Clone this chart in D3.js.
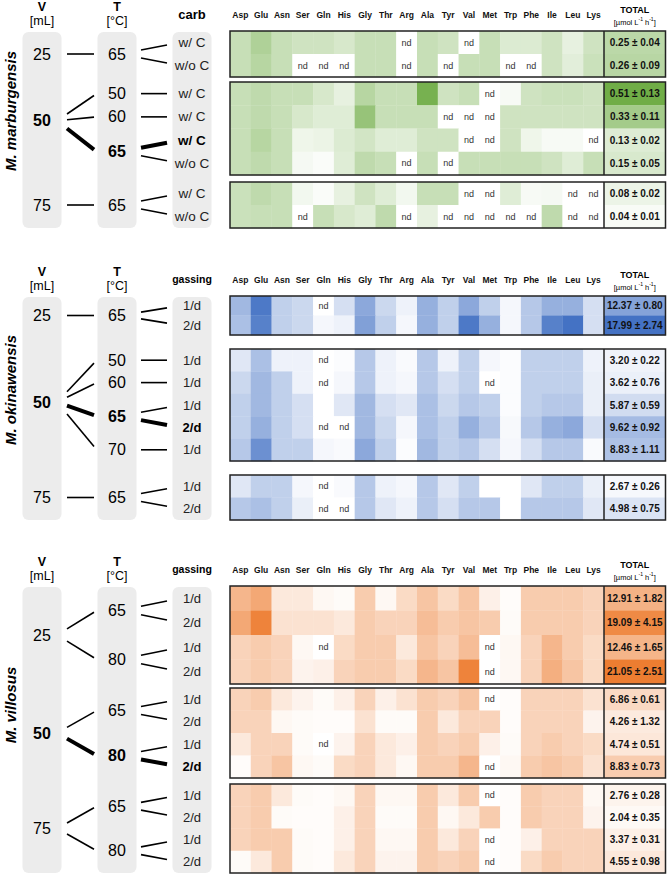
<!DOCTYPE html>
<html><head><meta charset="utf-8">
<script src="https://cdn.jsdelivr.net/npm/d3@7"></script>
<style>
body{margin:0;background:#fff}
svg{display:block;font-family:"Liberation Sans",Arial,sans-serif}
</style>
</head><body>
<svg id="c" width="667" height="875"></svg>
<script>
// ---------------- DATA ----------------
const aminoAcids = ["Asp","Glu","Asn","Ser","Gln","His","Gly","Thr","Arg","Ala","Tyr","Val","Met","Trp","Phe","Ile","Leu","Lys"];

// M. marburgensis
const marbVolume = [25,25,50,50,50,50,75,75];
const marbTemp   = [65,65,50,60,65,65,65,65];
const marbCond   = ["w/ C","w/o C","w/ C","w/ C","w/ C","w/o C","w/ C","w/o C"];
const marbTotal  = [0.25,0.26,0.51,0.33,0.13,0.15,0.08,0.04];
const marbSD     = [0.04,0.09,0.13,0.11,0.02,0.05,0.02,0.01];
const marbStandard = 4;
// relative shading per amino acid (0 = none, 1 = max), null = nd
const marbLevels = [
 [0.35,0.5,0.35,0.3,0.3,0.25,0.35,0.35,null,0.35,0.3,null,0.35,0.22,0.22,0.3,0.15,0.3],
 [0.35,0.45,0.35,null,null,null,0.35,0.35,null,0.35,null,0.35,0.35,null,null,0.3,0.18,0.33],
 [0.35,0.4,0.35,0.35,0.25,0.15,0.45,0.35,0.35,0.85,0.3,0.35,null,0.05,0.3,0.33,0.33,0.3],
 [0.35,0.4,0.35,0.25,0.2,0.2,0.65,0.35,0.35,0.35,null,null,null,0.3,0.3,0.3,0.3,0.3],
 [0.35,0.45,0.35,0.1,0.12,0.22,0.28,0.2,0.2,0.3,0.3,null,null,0.3,0.1,0.05,0.05,null],
 [0.35,0.4,0.35,0.06,0.03,0.2,0.4,0.35,null,0.35,null,0.35,0.35,0.35,0.35,0.3,0.2,0.35],
 [0.33,0.4,0.35,0.08,0.03,0.15,0.3,0.2,0.08,0.35,0.35,null,null,0.2,0.05,0.06,null,null],
 [0.33,0.35,0.35,null,0.35,0.25,0.2,0.4,null,0.15,null,null,null,null,null,0.4,null,null]
];

// M. okinawensis
const okinVolume = [25,25,50,50,50,50,50,75,75];
const okinTemp   = [65,65,50,60,65,65,70,65,65];
const okinCond   = ["1/d","2/d","1/d","1/d","1/d","2/d","1/d","1/d","2/d"];
const okinTotal  = [12.37,17.99,3.20,3.62,5.87,9.62,8.83,2.67,4.98];
const okinSD     = [0.80,2.74,0.22,0.76,0.59,0.92,1.11,0.26,0.75];
const okinStandard = 5;
const okinLevels = [
 [0.45,0.85,0.3,0.25,null,0.2,0.55,0.25,0.08,0.5,0.3,0.55,0.3,0.05,0.35,0.5,0.5,0.2],
 [0.4,0.8,0.3,0.25,0.05,0.08,0.6,0.3,0.05,0.5,0.3,0.85,0.5,0.05,0.35,0.8,0.9,0.2],
 [0.15,0.4,0.08,0.08,null,0.02,0.35,0.08,0.03,0.35,0.08,0.3,0.05,0.02,0.3,0.3,0.3,0.08],
 [0.25,0.45,0.3,0.08,null,0.05,0.35,0.08,0.05,0.35,0.2,0.3,null,0.02,0.3,0.3,0.3,0.1],
 [0.3,0.45,0.3,0.2,0,0.15,0.45,0.2,0.15,0.4,0.25,0.35,0.3,0.02,0.3,0.35,0.35,0.1],
 [0.3,0.5,0.3,0.2,null,null,0.45,0.25,0.05,0.4,0.3,0.5,0.35,0.04,0.35,0.5,0.55,0.2],
 [0.35,0.7,0.3,0.3,0.05,0.03,0.55,0.3,0.02,0.45,0.3,0.35,0.2,0.05,0.2,0.35,0.35,0.03],
 [0.15,0.3,0.3,0.05,null,0.03,0.35,0.08,0.05,0.35,0.15,0.3,0,0,0.15,0.3,0.3,0.1],
 [0.35,0.4,0.3,0.1,null,null,0.35,0.15,0.08,0.35,0.2,0.35,0.35,0,0.35,0.35,0.35,0.15]
];

// M. villosus
const villVolume = [25,25,25,25,50,50,50,50,75,75,75,75];
const villTemp   = [65,65,80,80,65,65,80,80,65,65,80,80];
const villCond   = ["1/d","2/d","1/d","2/d","1/d","2/d","1/d","2/d","1/d","2/d","1/d","2/d"];
const villTotal  = [12.91,19.09,12.46,21.05,6.86,4.26,4.74,8.83,2.76,2.04,3.37,4.55];
const villSD     = [1.82,4.15,1.65,2.51,0.61,1.32,0.51,0.73,0.28,0.35,0.31,0.98];
const villStandard = 7;
const villLevels = [
 [0.5,0.6,0.15,0.15,0.05,0.03,0.35,0.05,0.25,0.4,0.25,0.4,0.1,0.02,0.35,0.35,0.35,0.3],
 [0.6,0.85,0.2,0.2,0.2,0.15,0.35,0.3,0.3,0.45,0.35,0.4,0.35,0.03,0.35,0.35,0.35,0.3],
 [0.3,0.35,0.3,0.05,null,0.25,0.35,0.35,0.15,0.4,0.3,0.45,null,0.05,0.3,0.5,0.35,0.25],
 [0.3,0.35,0.3,0.08,0.1,0.3,0.35,0.35,0.25,0.5,0.4,0.85,null,0.05,0.3,0.55,0.4,0.25],
 [0.3,0.35,0.15,0.08,0.03,0.1,0.3,0.1,0.2,0.35,0.3,0.4,null,0.02,0.3,0.3,0.3,0.2],
 [0.3,0.3,0.05,0.03,0.02,0.02,0.2,0.03,0.03,0.35,0.15,0.3,0.3,0.02,0.3,0.3,0.3,0.08],
 [0.15,0.3,0.3,0.03,null,0.08,0.3,0.15,0.1,0.35,0.3,0.35,0.1,0.03,0.3,0.35,0.3,0.25],
 [0.02,0.3,0.4,0.05,0.03,0.25,0.3,0.15,0.05,0.35,0.35,0.5,null,0.05,0.35,0.4,0.35,0.2],
 [0.3,0.35,0.15,0.03,0.02,0.05,0.3,0.05,0.05,0.35,0.15,0.35,null,0.02,0.35,0.3,0.3,0.05],
 [0.3,0.35,0.03,0.02,0.02,0.1,0.3,0.03,0.03,0.35,0.05,0.15,0.35,0.02,0.35,0.3,0.3,0.08],
 [0.3,0.35,0.35,0.03,0.02,0.1,0.3,0.05,0.05,0.35,0.15,0.3,null,0.02,0.1,0.3,0.3,0.3],
 [0.03,0.15,0.35,0.03,0.02,0.15,0.3,0.08,0.08,0.35,0.3,0.35,null,0.02,0.25,0.35,0.3,0.3]
];

// ---------------- LAYOUT ----------------
const panels = [
 {name:"M. marburgensis", condTitle:"carb", condTitleSize:13, condSize:13.5, base:"#70ad47",
  vol:marbVolume, temp:marbTemp, cond:marbCond, total:marbTotal, sd:marbSD, levels:marbLevels, std:marbStandard,
  boxes:[[31,77],[82,175],[182,228]], nameY:111},
 {name:"M. okinawensis", condTitle:"gassing", condTitleSize:10.5, condSize:13, base:"#4472c4",
  vol:okinVolume, temp:okinTemp, cond:okinCond, total:okinTotal, sd:okinSD, levels:okinLevels, std:okinStandard,
  boxes:[[296,335],[349,461],[475,520]], nameY:390},
 {name:"M. villosus", condTitle:"gassing", condTitleSize:10.5, condSize:13, base:"#ed7d31",
  vol:villVolume, temp:villTemp, cond:villCond, total:villTotal, sd:villSD, levels:villLevels, std:villStandard,
  boxes:[[586,684],[688,778],[784,873]], nameY:705}
];

const heatLeft = 230, heatRight = 604, totalRight = 665.5;
const colV = 42, colT = 117, colC = 192;
const shade = 1.12;
const svg = d3.select("#c");
const x = d3.scaleBand().domain(aminoAcids).range([heatLeft, heatRight]);

function groupRuns(arr, idx) {
  const runs = [];
  idx.forEach(i => {
    const last = runs[runs.length-1];
    if (last && arr[last[0]] === arr[i]) last.push(i); else runs.push([i]);
  });
  return runs;
}

panels.forEach(p => {
  const g = svg.append("g");
  const color = d3.scaleLinear().domain([0,1]).range(["#ffffff", p.base]).interpolate(d3.interpolateRgb).clamp(true);
  const totT = d3.scaleLinear().domain(d3.extent(p.total)).range([0.05,1]);
  const top0 = p.boxes[0][0], bot = p.boxes[p.boxes.length-1][1];

  // headers
  [[colV,"V","[mL]"],[colT,"T","[°C]"]].forEach(([cx,a,b]) => {
    g.append("text").attr("x",cx).attr("y",top0-20).attr("text-anchor","middle")
      .attr("font-size",12.5).attr("font-weight","bold").text(a);
    g.append("text").attr("x",cx).attr("y",top0-6).attr("text-anchor","middle")
      .attr("font-size",12.5).text(b);
  });
  g.append("text").attr("x",colC).attr("y",top0-17).attr("text-anchor","middle").attr("dominant-baseline","central")
    .attr("font-size",p.condTitleSize).attr("font-weight","bold").text(p.condTitle);
  g.selectAll(".aa").data(aminoAcids).join("text")
    .attr("x",d=>x(d)+x.bandwidth()/2).attr("y",top0-16).attr("text-anchor","middle").attr("dominant-baseline","central")
    .attr("font-size",8.5).attr("font-weight","bold").attr("fill","#111").text(d=>d);
  const tc = (heatRight+totalRight)/2;
  g.append("text").attr("x",tc).attr("y",top0-21).attr("text-anchor","middle").attr("dominant-baseline","central")
    .attr("font-size",9).attr("font-weight","bold").text("TOTAL");
  const u = g.append("text").attr("x",tc).attr("y",top0-9).attr("text-anchor","middle").attr("dominant-baseline","central")
    .attr("font-size",7.5);
  u.append("tspan").text("[µmol L");
  u.append("tspan").attr("font-size",5).attr("baseline-shift","super").text("-1");
  u.append("tspan").text(" h");
  u.append("tspan").attr("font-size",5).attr("baseline-shift","super").text("-1");
  u.append("tspan").text("]");

  // species name
  g.append("text").attr("transform",`translate(15.5,${p.nameY}) rotate(-90)`).attr("text-anchor","middle")
    .attr("font-size",15).attr("font-weight","bold").attr("font-style","italic").text(p.name);

  // grey columns
  [colV,colT,colC].forEach(cx => {
    g.append("rect").attr("x",cx-19.5).attr("y",top0+1).attr("width",39).attr("height",bot-top0-1)
      .attr("rx",6).attr("fill","#ececec");
  });

  // rows
  const allIdx = d3.range(p.vol.length);
  const vRuns = groupRuns(p.vol, allIdx);
  const rowY = [], rowH = [];
  vRuns.forEach((run, gi) => {
    const yb = d3.scaleBand().domain(run).range(p.boxes[gi]);
    run.forEach(i => { rowY[i] = yb(i); rowH[i] = yb.bandwidth(); });
  });
  const rowC = i => rowY[i] + rowH[i]/2;

  // heat cells
  allIdx.forEach(i => {
    aminoAcids.forEach((aa, j) => {
      const v = p.levels[i][j];
      g.append("rect").attr("x",x(aa)).attr("y",rowY[i]).attr("width",x.bandwidth()+0.3).attr("height",rowH[i]+0.3)
        .attr("fill", v === null ? "#ffffff" : color(v*shade));
      if (v === null) {
        g.append("text").attr("x",x(aa)+x.bandwidth()/2).attr("y",rowC(i)).attr("text-anchor","middle")
          .attr("dominant-baseline","central").attr("font-size",9).attr("fill","#333").text("nd");
      }
    });
    g.append("rect").attr("x",heatRight).attr("y",rowY[i]).attr("width",totalRight-heatRight).attr("height",rowH[i]+0.3)
      .attr("fill", color(totT(p.total[i])));
    g.append("text").attr("x",tc).attr("y",rowC(i)).attr("text-anchor","middle").attr("dominant-baseline","central")
      .attr("font-size",10).attr("font-weight","bold").attr("fill","#111")
      .text(p.total[i].toFixed(2) + " ± " + p.sd[i].toFixed(2));
  });

  // group borders
  p.boxes.forEach(b => {
    g.append("rect").attr("x",heatLeft).attr("y",b[0]).attr("width",totalRight-heatLeft).attr("height",b[1]-b[0])
      .attr("fill","none").attr("stroke","#222").attr("stroke-width",1.5);
    g.append("line").attr("x1",heatRight).attr("x2",heatRight).attr("y1",b[0]).attr("y2",b[1])
      .attr("stroke","#222").attr("stroke-width",1.5);
  });

  // tree labels and connectors
  function conn(x0,x1,y0,y1,a,b,bold){
    g.append("line").attr("x1",x0).attr("x2",x1)
      .attr("y1",y0+a*(y1-y0)).attr("y2",y0+b*(y1-y0))
      .attr("stroke","#000").attr("stroke-width",bold?4:1.6);
  }
  vRuns.forEach(run => {
    const tRuns = groupRuns(p.temp, run);
    const tYs = tRuns.map(tr => d3.mean(tr, rowC));
    const vy = d3.mean(tYs);
    const vBold = run.includes(p.std);
    g.append("text").attr("x",colV).attr("y",vy).attr("text-anchor","middle").attr("dominant-baseline","central")
      .attr("font-size",16).attr("font-weight",vBold?"bold":"normal").text(p.vol[run[0]]);
    tRuns.forEach((tr, k) => {
      const ty = tYs[k];
      const tBold = tr.includes(p.std);
      g.append("text").attr("x",colT).attr("y",ty).attr("text-anchor","middle").attr("dominant-baseline","central")
        .attr("font-size",16).attr("font-weight",tBold?"bold":"normal").text(p.temp[tr[0]]);
      conn(67,94,vy,ty,0.25,0.93,tBold);
      tr.forEach(i => {
        const cb = i === p.std;
        g.append("text").attr("x",colC).attr("y",rowC(i)).attr("text-anchor","middle").attr("dominant-baseline","central")
          .attr("font-size",p.condSize).attr("font-weight",cb?"bold":"normal").attr("fill",cb?"#000":"#222").text(p.cond[i]);
        conn(141,167,ty,rowC(i),0.35,0.78,cb);
      });
    });
  });
});
</script>
</body></html>
